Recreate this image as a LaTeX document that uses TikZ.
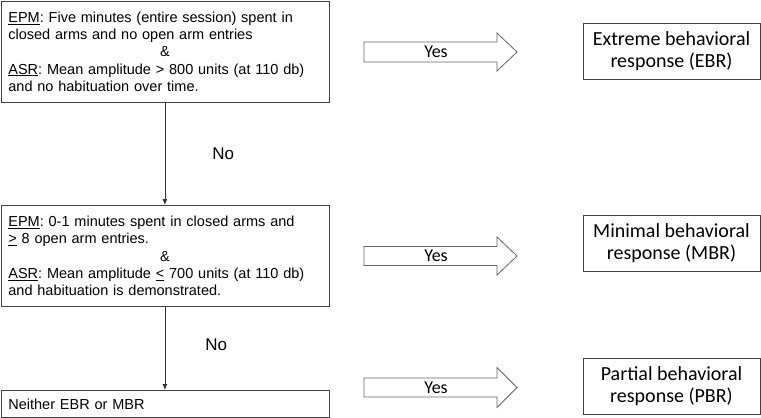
\documentclass[tikz,border=0pt]{standalone}
\usepackage{fontspec}
\setmainfont{Liberation Sans}
\newfontfamily\calibri{Carlito}
\frenchspacing
\usetikzlibrary{arrows.meta, positioning}
\tikzstyle{critbox} = [draw=black!75, line width=0.8pt, rectangle, anchor=north west,
    inner xsep=7.5pt, inner ysep=0pt, text width=313pt, align=left,
    font=\fontsize{14.5}{17.25}\selectfont]
\tikzstyle{respbox} = [draw=black!75, line width=0.8pt, rectangle, minimum width=177pt,
    minimum height=56pt, inner sep=0pt, align=center,
    font=\calibri\fontsize{20}{21.5}\selectfont]
\tikzstyle{yesarrow} = [draw=black!60, line width=0.8pt, fill=white]
\tikzstyle{answer} = [inner sep=0pt, font=\fontsize{17}{20}\selectfont]
\tikzstyle{yes} = [inner sep=0pt, font=\calibri\fontsize{18}{20}\selectfont]

\begin{document}
\begin{tikzpicture}[x=1pt, y=-1pt, >={Latex[length=6pt,width=5pt]}]
    \useasboundingbox (0,0) rectangle (761,418);
    % criteria column
    \node [critbox, minimum height=101.5pt] (crit1) at (0.5,0.5)
        {\underline{EPM}: Five minutes (entire session) spent in\\
         closed\ arms and no open arm entries\\
         \hfill\&\hfill\mbox{}\\
         \underline{ASR}: Mean amplitude > 800 units (at 110 db)\\
         and no habituation over time.};
    \node [critbox, minimum height=101pt] (crit2) at (0.5,205)
        {\underline{EPM}: 0-1 minutes spent in closed\ arms and\\
         \underline{>} 8 open arm entries.\\
         \hfill\&\hfill\mbox{}\\
         \underline{ASR}: Mean amplitude \underline{<} 700 units (at 110 db)\\
         and habituation is demonstrated.};
    \node [critbox, minimum height=27pt] (crit3) at (0.5,390) {Neither EBR or MBR};
    % outcomes
    \node [respbox] (ebr) at (671.5,51) {Extreme behavioral\\ response (EBR)};
    \node [respbox] (mbr) at (671.5,243) {Minimal behavioral\\ response (MBR)};
    \node [respbox] (pbr) at (671.5,386) {Partial behavioral\\ response (PBR)};
    % no branches
    \draw [->, draw=black!80, line width=0.8pt] (crit1.south) -- node [answer, right=47pt] {No} (crit2.north);
    \draw [->, draw=black!80, line width=0.8pt] (crit2.south) -- node [answer, right=40pt, pos=0.45] {No} (crit3.north);
    % yes branches
    \draw [yesarrow, shift={(440.5,52)}] (-76.5,-10) -- (56.5,-10) -- (56.5,-19) -- (76.5,0)
        -- (56.5,19) -- (56.5,10) -- (-76.5,10) -- cycle;
    \node [yes] (yes1) at (436,52) {Yes};
    \draw [yesarrow, shift={(440.5,256)}] (-76.5,-9.5) -- (56.5,-9.5) -- (56.5,-19) -- (76.5,0)
        -- (56.5,19) -- (56.5,9.5) -- (-76.5,9.5) -- cycle;
    \node [yes] (yes2) at (436,256) {Yes};
    \draw [yesarrow, shift={(440.5,387.5)}] (-76.5,-9.5) -- (56.5,-9.5) -- (56.5,-20) -- (76.5,0)
        -- (56.5,20) -- (56.5,9.5) -- (-76.5,9.5) -- cycle;
    \node [yes] (yes3) at (436,387.5) {Yes};
\end{tikzpicture}
\end{document}
